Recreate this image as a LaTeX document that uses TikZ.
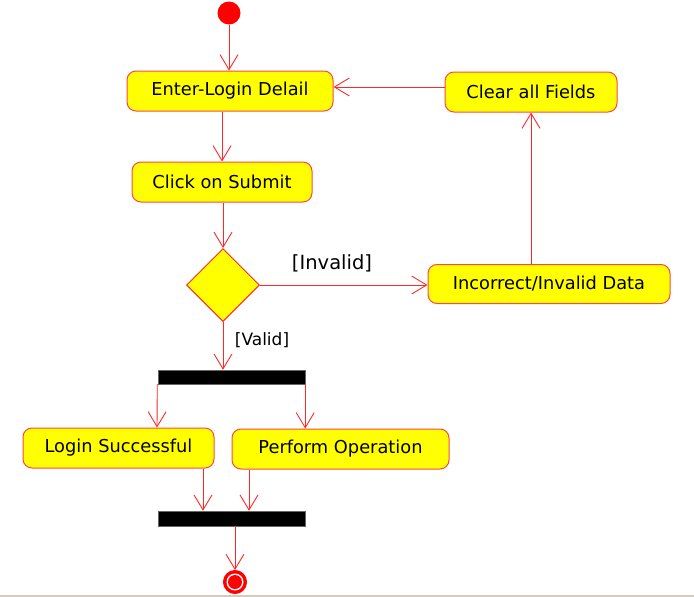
\documentclass[tikz,border=0pt]{standalone}
\usepackage{fontspec}
\setmainfont{DejaVu Sans}
\usetikzlibrary{arrows.meta,shapes.geometric}
\definecolor{lred}{RGB}{255,40,40}
\definecolor{bred}{RGB}{255,70,70}
\definecolor{ayel}{RGB}{255,255,0}
\definecolor{gline}{RGB}{210,203,190}
\begin{document}
\begin{tikzpicture}[x=1pt,y=-1pt,
  act/.style={draw=bred,fill=ayel,line width=1pt,rounded corners=9pt,inner sep=0pt,
    font=\fontsize{17.8}{20}\selectfont,text=black},
  bar/.style={fill=black,draw=black!60,inner sep=0pt},
  flow/.style={draw=lred,line width=0.9pt,-{Straight Barb[length=15pt,width=18pt,line width=0.9pt]}},
  guard/.style={text=black,inner sep=0pt}]
\useasboundingbox (0,0) rectangle (694,597);
\draw[gline,line width=1.5pt] (0,596) -- (694,596);
% nodes
\node[circle,fill=red,inner sep=0pt,minimum size=23pt] (start) at (229,13) {};
\node[act,minimum width=206pt,minimum height=40pt] (enter) at (230,91) {Enter-Login Delail};
\node[act,minimum width=172pt,minimum height=40pt] (clear) at (531,92) {Clear all Fields};
\node[act,minimum width=180pt,minimum height=40pt] (click) at (222,182) {Click on Submit};
\node[diamond,draw=lred,fill=ayel,line width=1pt,inner sep=0pt,minimum width=73pt,minimum height=73pt] (dec) at (223,285) {};
\node[act,minimum width=242pt,minimum height=39pt] (inc) at (549,284) {Incorrect/Invalid Data};
\node[bar,minimum width=147pt,minimum height=14pt] (fork) at (231.5,377) {};
\node[act,minimum width=191pt,minimum height=40pt] (login) at (118.5,448) {Login Successful};
\node[act,minimum width=217pt,minimum height=40pt] (perf) at (340.5,449) {Perform Operation};
\node[bar,minimum width=147pt,minimum height=15pt] (join) at (231.5,518.5) {};
\node[circle,fill=red,draw=red,line width=1pt,inner sep=0pt,minimum size=23pt] (final) at (235,582) {};
\fill[white] (final.center) circle (8.5pt);
\fill[red] (final.center) circle (7pt);
% guards
\node[guard,font=\fontsize{19.5}{22}\selectfont] (ginv) at (332,263) {[Invalid]};
\node[guard,font=\fontsize{17}{20}\selectfont] (gval) at (262,340) {[Valid]};
% connectors
\draw[flow] (start) -- (start |- enter.north);
\draw[flow] (clear.west |- 0,87) -- (enter.east |- 0,87);
\draw[flow] (enter.south -| 222,0) -- (click.north -| 222,0);
\draw[flow] (click.south -| dec.north) -- (dec.north);
\draw[flow] (dec.east) -- (dec.east -| inc.west);
\draw[flow] (inc.north -| clear.south) -- (clear.south);
\draw[flow] (dec.south) -- (fork.north -| dec.south);
\draw[flow] (fork.south west) ++(-0.5,0) -- (login.north -| 157,0);
\draw[flow] (fork.south east) -- (perf.north -| fork.south east);
\draw[flow] (login.south -| 203,0) -- (join.north -| 203,0);
\draw[flow] (perf.south -| 249,0) -- (join.north -| 249,0);
\draw[flow] (join.south -| final.north) -- (final.north);
\end{tikzpicture}
\end{document}
